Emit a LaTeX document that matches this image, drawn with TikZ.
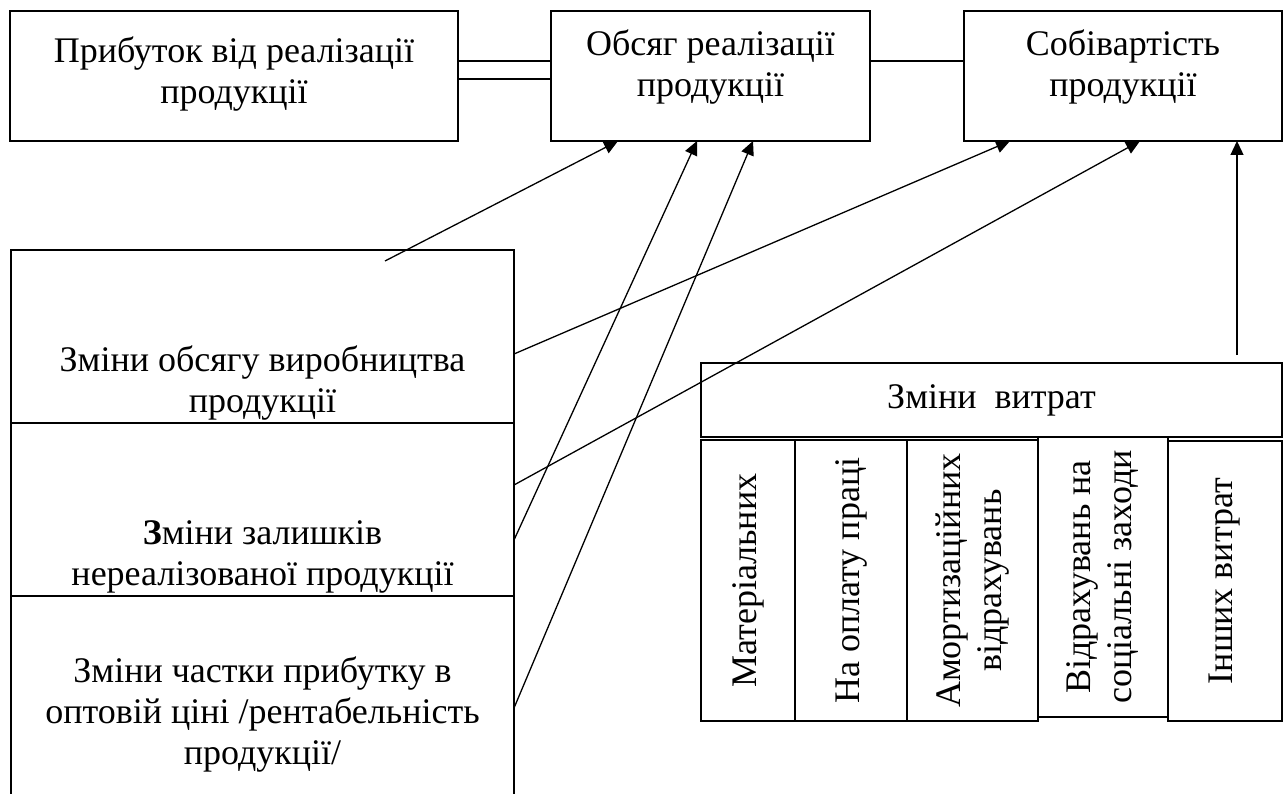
\documentclass[tikz,border=0pt]{standalone}
\usepackage{fontspec}
\setmainfont{Liberation Serif}
\usetikzlibrary{arrows.meta,positioning}

\begin{document}
\begin{tikzpicture}[x=1pt,y=-1pt,->,>={Triangle[length=14pt,width=13pt]},line width=1.3pt,
                    box/.style={draw,rectangle,inner sep=0pt,outer sep=0pt,-},
                    txt/.style={align=center,inner sep=0pt,font=\fontsize{36}{41}\selectfont},
                    vtxt/.style={txt,rotate=90}]

  \useasboundingbox (0,0) rectangle (1288,794);
  \clip (0,0) rectangle (1288,794);

  % top row
  \node[box,minimum width=448pt,minimum height=130pt] (prib) at (234,76) {};
  \node[box,minimum width=319pt,minimum height=130pt] (obs) at (710.5,76) {};
  \node[box,minimum width=318pt,minimum height=130pt] (sob) at (1123,76) {};
  \node[txt,below=25pt of prib.north] (prib-t) {Прибуток від реалізації\\продукції};
  \node[txt,below=18pt of obs.north] (obs-t) {Обсяг реалізації\\продукції};
  \node[txt,below=18pt of sob.north] (sob-t) {Собівартість\\продукції};

  \draw[-] ([yshift=15pt]prib.east) -- ([yshift=15pt]obs.west);
  \draw[-] ([yshift=-3pt]prib.east) -- ([yshift=-3pt]obs.west);
  \draw[-] ([yshift=15pt]obs.east) -- ([yshift=15pt]sob.west);

  % left stack
  \node[box,minimum width=503pt,minimum height=173pt] (zob) at (262.5,336.5) {};
  \node[box,minimum width=503pt,minimum height=173pt,below=0pt of zob] (zal) {};
  \node[box,minimum width=503pt,minimum height=214pt,below=0pt of zal] (chas) {};
  \node[txt,above=2pt of zob.south] (zob-t) {Зміни обсягу виробництва\\продукції};
  \node[txt,above=2pt of zal.south] (zal-t) {\textbf{З}міни залишків\\нереалізованої продукції};
  \node[txt,below=60pt of chas.north] (chas-t) {Зміни частки прибутку в\\оптовій ціні /рентабельність\\продукції/};

  % costs
  \node[box,txt,minimum width=581pt,minimum height=74pt] (vyt) at (991.5,400) {Зміни\ \ витрат};
  \node[box,vtxt,minimum width=281pt,minimum height=94pt] (mat) at (748,580.5) {Матеріальних};
  \node[box,vtxt,minimum width=281pt,minimum height=112pt] (opl) at (851,580.5) {На оплату праці};
  \node[box,vtxt,minimum width=281pt,minimum height=131pt] (amo) at (972.5,580.5) {Амортизаційних\\відрахувань};
  \node[box,vtxt,minimum width=280pt,minimum height=130pt] (soc) at (1103,577) {Відрахувань на\\соціальні заходи};
  \node[box,vtxt,minimum width=280pt,minimum height=114pt] (inh) at (1225,581) {Інших витрат};

  % arrows
  \coordinate (zob-s) at (385,261);
  \draw (zob-s) -- ([xshift=67pt]obs.south west);
  \draw ([yshift=-104pt]zob.north east) -- ([xshift=46pt]sob.south west);
  \draw ([yshift=-62pt]zal.north east) -- ([xshift=176pt]sob.south west);
  \draw ([yshift=-117pt]zal.north east) -- ([xshift=146pt]obs.south west);
  \draw ([yshift=-112pt]chas.north east) -- ([xshift=202pt]obs.south west);
  \draw ([xshift=-45pt,yshift=8pt]vyt.north east) -- ([xshift=-45pt]sob.south east);
\end{tikzpicture}
\end{document}
